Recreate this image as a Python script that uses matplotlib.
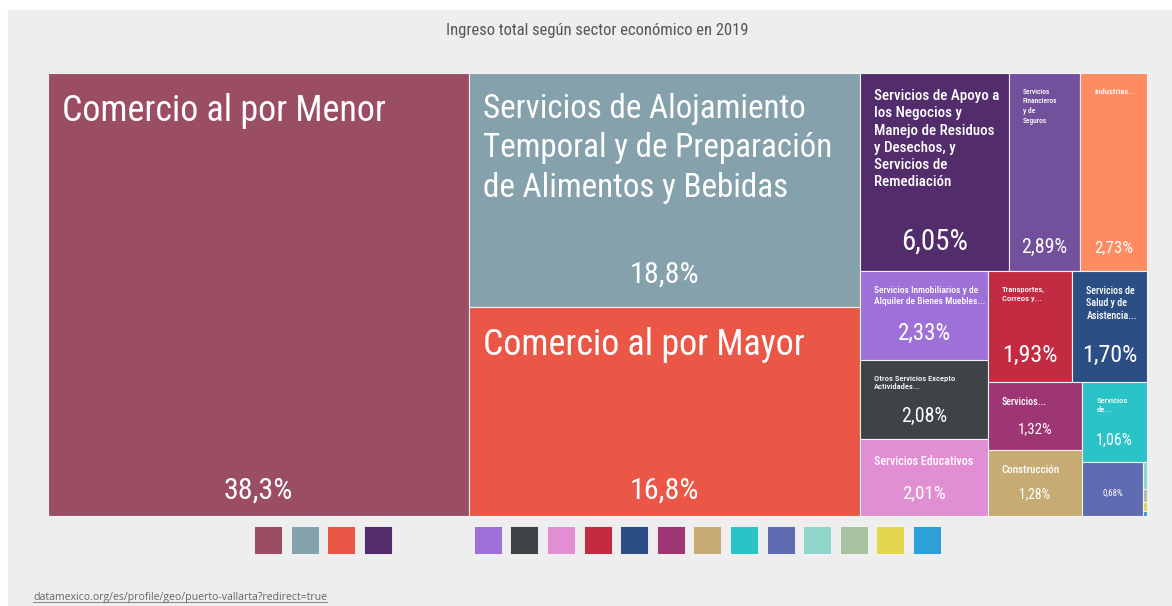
import numpy as np
import matplotlib.pyplot as plt
from matplotlib.patches import Rectangle

# --- data -------------------------------------------------------------
title = "Ingreso total según sector económico en 2019"
source = "datamexico.org/es/profile/geo/puerto-vallarta?redirect=true"

labels = [
    "Comercio al por Menor",
    "Servicios de Alojamiento\nTemporal y de Preparación\nde Alimentos y Bebidas",
    "Comercio al por Mayor",
    "Servicios de Apoyo a\nlos Negocios y\nManejo de Residuos\ny Desechos, y\nServicios de\nRemediación",
    "Servicios\nFinancieros\ny de\nSeguros",
    "Industrias...",
    "Servicios Inmobiliarios y de\nAlquiler de Bienes Muebles...",
    "Otros Servicios Excepto\nActividades...",
    "Servicios Educativos",
    "Transportes,\nCorreos y...",
    "Servicios de\nSalud y de\nAsistencia...",
    "Servicios...",
    "Construcción",
    "Servicios\nde...",
    "",
    "",
    "",
    "",
    "",
]
shares = [38.3, 18.8, 16.8, 6.05, 2.89, 2.73, 2.33, 2.08, 2.01, 1.93,
          1.70, 1.32, 1.28, 1.06, 0.68, 0.02, 0.01, 0.006, 0.004]
colors = ["#9b4d64", "#85a1ab", "#ea5746", "#522c6b", "#72509b", "#ff8b60",
          "#9d71d7", "#3d4347", "#e18ed2", "#c32b42", "#2b4f85", "#9d3672",
          "#c6ab73", "#29c3c8", "#5f6cb1", "#8fd5ca", "#a9c0a1", "#e3d54c",
          "#2f9fd8"]
in_legend = [True, True, True, True, False, False] + [True] * 13

# --- styles (sizes in px) ---------------------------------------------
label_px = [36, 33, 36, 15, 7.5, 8.5, 9.5, 8.5, 12, 8.5, 10, 10, 11, 8.5,
            0, 0, 0, 0, 0]
value_px = [30, 30, 30, 29, 20, 17, 23, 20, 19, 24, 24, 15, 13.5, 16, 9,
            0, 0, 0, 0]
value_drop = [17, 24, 17, 21, 18, 18, 20, 17, 18, 20, 20, 17, 18, 17, 20,
              0, 0, 0, 0]

W, H = 1172, 606
box = (48, 73, 1147, 516)        # treemap area x0, y0, x1, y1
PX = 72 / 100                    # px -> pt at dpi 100

plt.rcParams['font.family'] = ['Roboto Condensed', 'Lato', 'DejaVu Sans']


def squarify(values, x0, y0, x1, y1, ratio=(1 + 5 ** 0.5) / 2):
    """d3-style squarified treemap, values sorted descending."""
    out = []
    value = float(sum(values))
    i0 = i1 = 0
    n = len(values)
    while i0 < n:
        dx, dy = x1 - x0, y1 - y0
        s = values[i1]
        i1 += 1
        lo = hi = s
        alpha = max(dy / dx, dx / dy) / (value * ratio)
        beta = s * s * alpha
        best = max(hi / beta, beta / lo)
        while i1 < n:
            v = values[i1]
            s2 = s + v
            lo2, hi2 = min(lo, v), max(hi, v)
            beta = s2 * s2 * alpha
            r = max(hi2 / beta, beta / lo2)
            if r > best:
                break
            s, lo, hi, best = s2, lo2, hi2, r
            i1 += 1
        row = values[i0:i1]
        if dx < dy:
            h = dy * s / value if i1 < n else dy
            cx = x0
            for v in row:
                w = dx * v / s
                out.append((cx, y0, w, h))
                cx += w
            y0 += h
        else:
            w = dx * s / value if i1 < n else dx
            cy = y0
            for v in row:
                h = dy * v / s
                out.append((x0, cy, w, h))
                cy += h
            x0 += w
        value -= s
        i0 = i1
    return out


def fmt_share(v):
    txt = f"{v:.1f}" if v >= 10 else f"{v:.2f}"
    return txt.replace(".", ",") + "%"


fig = plt.figure(figsize=(W / 100, H / 100), dpi=100)
ax = fig.add_axes([0, 0, 1, 1])
ax.set_xlim(0, W)
ax.set_ylim(H, 0)
ax.axis("off")

# grey card behind everything
ax.add_patch(Rectangle((8, 10), W - 8, H - 10, color="#eeeeee", zorder=0))

ax.text((box[0] + box[2]) / 2, 31, title, ha="center", va="center",
        fontsize=16.5 * PX, color="#555555")

rects = squarify(shares, *box)
for (x, y, w, h), lab, v, c, lp, vp, dv in zip(rects, labels, shares, colors,
                                              label_px, value_px, value_drop):
    ax.add_patch(Rectangle((x, y), w, h, facecolor=c, edgecolor="#f2f2f2",
                           linewidth=0.8, zorder=1))
    if lab:
        ax.text(x + 14, y + 13 + 0.2 * lp, lab, ha="left", va="top",
                fontsize=lp * PX, color="white", linespacing=1.3,
                fontweight="medium" if lp < 16 else "normal", zorder=2)
    if vp:
        ax.text(x + w / 2, y + h - dv, fmt_share(v), ha="center",
                va="baseline", fontsize=vp * PX, color="white", zorder=2)

# legend swatches, one slot per sector
size, pitch = 28, 36.6
span = pitch * (len(shares) - 1) + size
lx = (box[0] + box[2]) / 2 - span / 2
for i, (c, show) in enumerate(zip(colors, in_legend)):
    if show:
        ax.add_patch(Rectangle((lx + i * pitch, 526), size, size,
                               facecolor=c, edgecolor="#f7f7f7",
                               linewidth=0.6, zorder=1))

src = ax.text(33, 600, source, ha="left", va="baseline",
              fontsize=10.5 * PX, color="#666666", family="Open Sans")
fig.canvas.draw()
bb = src.get_window_extent().transformed(ax.transData.inverted())
ax.plot([bb.x0, bb.x1], [602, 602], color="#777777", linewidth=0.6)

fig.savefig("out.png", dpi=100)
